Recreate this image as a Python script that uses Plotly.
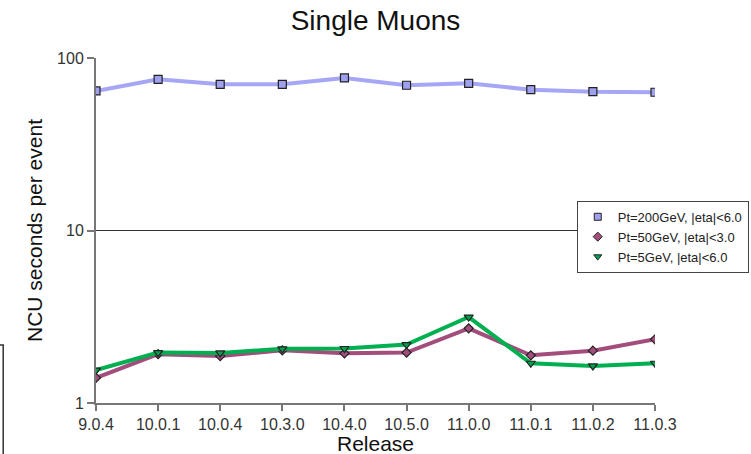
import plotly.graph_objects as go

releases = ["9.0.4", "10.0.1", "10.0.4", "10.3.0", "10.4.0", "10.5.0", "11.0.0", "11.0.1", "11.0.2", "11.0.3"]
pt200 = [64.4, 75.2, 70.4, 70.4, 76.6, 69.5, 71.3, 65.5, 63.8, 63.3]
pt50 = [1.40, 1.92, 1.87, 2.02, 1.94, 1.96, 2.71, 1.89, 2.01, 2.34]
pt5 = [1.55, 1.96, 1.95, 2.06, 2.07, 2.18, 3.15, 1.70, 1.64, 1.70]

names = ["Pt=200GeV, |eta|<6.0", "Pt=50GeV, |eta|<3.0", "Pt=5GeV, |eta|<6.0"]
series = [pt200, pt50, pt5]
line_colors = ["#a6a6f6", "#a24d7c", "#00b050"]
marker_fill = ["#a0a0f0", "#a24d7c", "#00a050"]
symbols = ["square", "diamond", "triangle-down"]
sizes = [8, 7, 8]

fig = go.Figure()
for n, s, lc, mf, sym, sz in zip(names, series, line_colors, marker_fill, symbols, sizes):
    fig.add_trace(go.Scatter(
        x=releases, y=s, mode="lines+markers", name=n, showlegend=False,
        line=dict(color=lc, width=4),
        marker=dict(symbol=sym, size=sz, color=mf, line=dict(color="#222222", width=1.2)),
    ))
for n, s, lc, mf, sym, sz in zip(names, series, line_colors, marker_fill, symbols, sizes):
    fig.add_trace(go.Scatter(
        x=[None], y=[None], mode="markers", name=n, showlegend=True,
        marker=dict(symbol=sym, size=7, color=mf, line=dict(color="#222222", width=1)),
    ))

fig.update_layout(
    width=751, height=454,
    margin=dict(l=96, r=96, t=58, b=51, autoexpand=False),
    paper_bgcolor="white", plot_bgcolor="white",
    font=dict(family="Liberation Sans, Arial, sans-serif", color="#333333"),
    title=dict(text="Single Muons", x=0.5, xanchor="center", y=0.955, yanchor="middle",
               font=dict(size=28, color="#111111")),
    legend=dict(x=0.86, y=0.586, xanchor="left", yanchor="top",
                bgcolor="white", bordercolor="#444444", borderwidth=1,
                font=dict(size=13, color="#222222"), itemsizing="trace",
                itemwidth=30, tracegroupgap=0),
    showlegend=True,
)
fig.update_xaxes(
    type="category", range=[0, 9], automargin=False,
    showline=True, linecolor="#777777", linewidth=2,
    ticks="outside", ticklen=6, tickcolor="#777777", tickwidth=1.5,
    showgrid=False, tickfont=dict(size=16, color="#333333"),
)
fig.update_yaxes(
    type="log", range=[0, 2], dtick=1, automargin=False,
    showline=True, linecolor="#777777", linewidth=2,
    ticks="outside", ticklen=7, tickcolor="#777777", tickwidth=1.5,
    showgrid=True, gridcolor="#333333", gridwidth=1,
    tickfont=dict(size=16, color="#333333"),
    title=dict(text="NCU seconds per event", font=dict(size=21, color="#111111"), standoff=9),
    zeroline=False,
)
fig.add_annotation(text="Release", xref="paper", yref="paper", x=0.5, y=-0.116,
                   xanchor="center", yanchor="middle", showarrow=False,
                   font=dict(size=21, color="#111111"))
# partial border artifact at bottom-left of the reference picture
fig.add_shape(type="path", xref="paper", yref="paper",
              path="M -0.2 0.168 L -0.166 0.168 L -0.166 -0.2",
              line=dict(color="#333333", width=1.5))

fig.write_html("out.html", config={"displayModeBar": False},
               post_script="document.body.style.margin='0';document.body.style.overflow='hidden';")
